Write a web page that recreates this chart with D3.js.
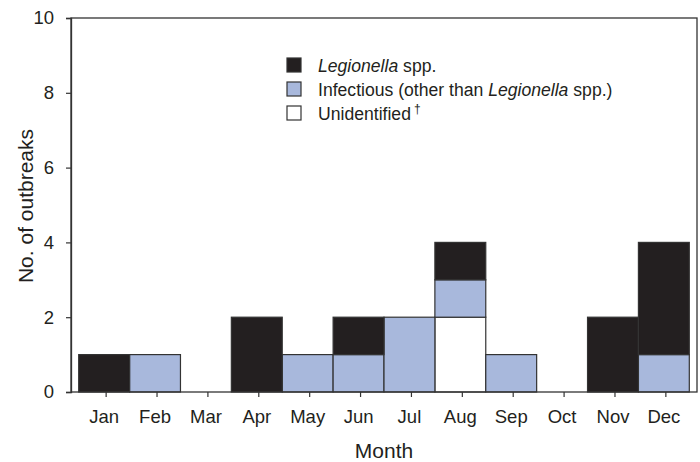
<!DOCTYPE html>
<html>
<head>
<meta charset="utf-8">
<script src="https://cdnjs.cloudflare.com/ajax/libs/d3/7.8.5/d3.min.js"></script>
<style>
  body { margin: 0; background: #fff; }
  svg text { font-family: "Liberation Sans", Arial, sans-serif; fill: #231f20; }
</style>
</head>
<body>
<script>
'use strict';

//data
var months = ['Jan', 'Feb', 'Mar', 'Apr', 'May', 'Jun', 'Jul', 'Aug', 'Sep', 'Oct', 'Nov', 'Dec'];
var unidentified = [0, 0, 0, 0, 0, 0, 0, 2, 0, 0, 0, 0];
var infectious = [0, 1, 0, 0, 1, 1, 2, 1, 1, 0, 0, 1];
var legionella = [1, 0, 0, 2, 0, 1, 0, 1, 0, 0, 2, 3];
var yTicks = [0, 2, 4, 6, 8, 10];

var seriesKeys = ['unidentified', 'infectious', 'legionella'];
var colors = { unidentified: '#ffffff', infectious: '#a8b8dc', legionella: '#231f20' };

//general setup
var width = 700, height = 462;
var plot = { left: 71, right: 697, top: 18, bottom: 392 };
var tickFont = '18.5px';

var svg = d3.select('body').append('svg').attr('width', width).attr('height', height);

var rows = months.map(function (m, i) {
  return { month: m, unidentified: unidentified[i], infectious: infectious[i], legionella: legionella[i] };
});

var stack = d3.stack().keys(seriesKeys)(rows);

//scales
var xScale = d3.scaleBand().domain(months).range([plot.left + 7.7, plot.right - 7.7]).padding(0);
var yScale = d3.scaleLinear().domain([0, 10]).range([plot.bottom, plot.top]);

//bars
svg.append('g').selectAll('g').data(stack).enter().append('g')
  .attr('fill', function (d) { return colors[d.key]; })
  .selectAll('rect').data(function (d) { return d.filter(function (s) { return s[1] - s[0] > 0; }); })
  .enter().append('rect')
  .attr('x', function (d) { return xScale(d.data.month); })
  .attr('y', function (d) { return yScale(d[1]); })
  .attr('width', xScale.bandwidth())
  .attr('height', function (d) { return yScale(d[0]) - yScale(d[1]); })
  .attr('stroke', '#333')
  .attr('stroke-width', 1.2);

//frame
svg.append('rect').attr('x', plot.left).attr('y', plot.top)
  .attr('width', plot.right - plot.left).attr('height', plot.bottom - plot.top)
  .attr('fill', 'none').attr('stroke', '#333').attr('stroke-width', 1.3);

//y-axis
var yAxis = svg.append('g').attr('transform', 'translate(' + plot.left + ',0)')
  .call(d3.axisLeft(yScale).tickValues(yTicks).tickSize(5).tickPadding(12));
yAxis.select('.domain').attr('stroke', '#333').attr('stroke-width', 1.3);
yAxis.selectAll('line').attr('stroke', '#333').attr('stroke-width', 1.2);
yAxis.selectAll('text').style('font-size', tickFont).attr('fill', '#231f20').style('font-family', '"Liberation Sans", Arial, sans-serif');

//x-axis
var xAxis = svg.append('g').attr('transform', 'translate(0,' + plot.bottom + ')')
  .call(d3.axisBottom(xScale).tickSize(5).tickSizeOuter(0).tickPadding(13));
xAxis.select('.domain').remove();
xAxis.selectAll('line').attr('stroke', '#333').attr('stroke-width', 1.2).attr('transform', 'translate(2,0)');
xAxis.selectAll('text').style('font-size', tickFont).attr('fill', '#231f20').style('font-family', '"Liberation Sans", Arial, sans-serif');

//axis titles
svg.append('text').attr('x', (plot.left + plot.right) / 2).attr('y', 458)
  .attr('text-anchor', 'middle').style('font-size', '21px').text('Month');
svg.append('text').attr('transform', 'translate(33,' + 206 + ') rotate(-90)')
  .attr('text-anchor', 'middle').style('font-size', '21px').text('No. of outbreaks');

//legend
var legendData = [
  { key: 'legionella', parts: [['Legionella', true], [' spp.', false]] },
  { key: 'infectious', parts: [['Infectious (other than ', false], ['Legionella', true], [' spp.)', false]] },
  { key: 'unidentified', parts: [['Unidentified', false]], dagger: true }
];
var legX = 287, legY = 65;
var legend = svg.append('g');
var item = legend.selectAll('g').data(legendData).enter().append('g')
  .attr('transform', function (d, i) { return 'translate(' + legX + ',' + (legY + 24 * i) + ')'; });
item.append('rect').attr('x', 0).attr('y', -7).attr('width', 14).attr('height', 14)
  .attr('fill', function (d) { return colors[d.key]; }).attr('stroke', '#333').attr('stroke-width', 1.2);
var label = item.append('text').attr('x', 31).attr('y', 6.5).style('font-size', '17.6px');
label.each(function (d) {
  var t = d3.select(this);
  d.parts.forEach(function (p) {
    t.append('tspan').style('font-style', p[1] ? 'italic' : 'normal').text(p[0]);
  });
  if (d.dagger) {
    t.append('tspan').attr('dx', 3).attr('dy', -7).style('font-size', '12px').text('\u2020');
  }
});
</script>
</body>
</html>
